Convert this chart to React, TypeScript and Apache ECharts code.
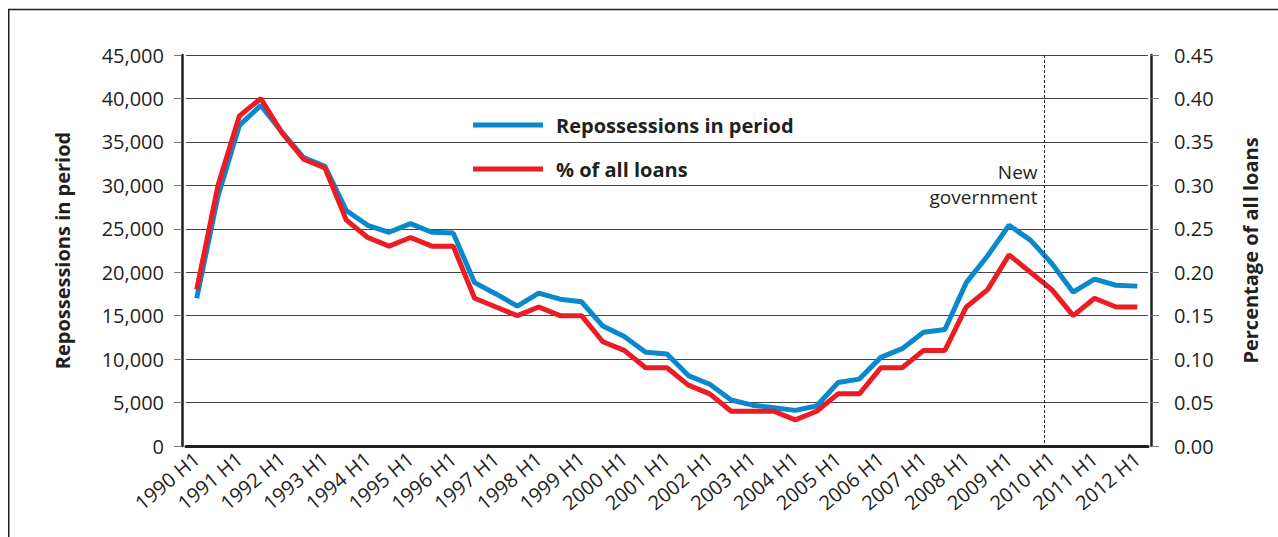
import React, { useEffect, useRef } from "react";
import * as echarts from "echarts";

const categories = [
  "1990 H1", "1990 H2", "1991 H1", "1991 H2", "1992 H1", "1992 H2", "1993 H1", "1993 H2",
  "1994 H1", "1994 H2", "1995 H1", "1995 H2", "1996 H1", "1996 H2", "1997 H1", "1997 H2",
  "1998 H1", "1998 H2", "1999 H1", "1999 H2", "2000 H1", "2000 H2", "2001 H1", "2001 H2",
  "2002 H1", "2002 H2", "2003 H1", "2003 H2", "2004 H1", "2004 H2", "2005 H1", "2005 H2",
  "2006 H1", "2006 H2", "2007 H1", "2007 H2", "2008 H1", "2008 H2", "2009 H1", "2009 H2",
  "2010 H1", "2010 H2", "2011 H1", "2011 H2", "2012 H1",
];

const repossessions = [
  17000, 28800, 36900, 39200, 36100, 33200, 32200, 27100,
  25400, 24600, 25600, 24600, 24500, 18800, 17500, 16100,
  17600, 16900, 16600, 13800, 12600, 10800, 10600, 8100,
  7100, 5300, 4700, 4400, 4100, 4600, 7300, 7700,
  10200, 11200, 13100, 13400, 18800, 21900, 25400, 23700,
  21000, 17700, 19200, 18500, 18400,
];

const percentOfLoans = [
  0.18, 0.30, 0.38, 0.40, 0.36, 0.33, 0.32, 0.26,
  0.24, 0.23, 0.24, 0.23, 0.23, 0.17, 0.16, 0.15,
  0.16, 0.15, 0.15, 0.12, 0.11, 0.09, 0.09, 0.07,
  0.06, 0.04, 0.04, 0.04, 0.03, 0.04, 0.06, 0.06,
  0.09, 0.09, 0.11, 0.11, 0.16, 0.18, 0.22, 0.20,
  0.18, 0.15, 0.17, 0.16, 0.16,
];

const seriesNames = ["Repossessions in period", "% of all loans"];
const annotationText = "New\ngovernment";
const annotationIndex = 39; // between 2009 H2 and 2010 H1

const TEXT = "#231f20";
const FONT = "'Open Sans', 'Noto Sans', sans-serif";

export default function App() {
  const ref = useRef<HTMLDivElement>(null);

  useEffect(() => {
    if (!ref.current) return;
    const chart = echarts.init(ref.current, null, { renderer: "svg" });
    chart.setOption({
      animation: false,
      textStyle: { fontFamily: FONT, color: TEXT },
      grid: { left: 178, top: 47, width: 962, height: 391 },
      legend: {
        orient: "vertical",
        left: 460,
        top: 102,
        icon: "rect",
        itemWidth: 70,
        itemHeight: 5,
        itemGap: 24,
        data: seriesNames,
        textStyle: {
          fontFamily: FONT,
          fontSize: 20,
          fontWeight: "bold",
          color: TEXT,
          padding: [0, 0, 0, 8],
        },
      },
      xAxis: {
        type: "category",
        data: categories,
        boundaryGap: true,
        axisLine: { lineStyle: { color: TEXT, width: 3 } },
        axisTick: { show: false },
        axisLabel: {
          interval: 1,
          rotate: 40,
          fontSize: 20,
          color: TEXT,
          fontFamily: FONT,
          margin: 10,
        },
        splitLine: { show: false },
      },
      yAxis: [
        {
          type: "value",
          min: 0,
          max: 45000,
          interval: 5000,
          position: "left",
          offset: 4,
          name: "Repossessions in period",
          nameLocation: "middle",
          nameRotate: 90,
          nameGap: 110,
          nameTextStyle: { fontSize: 20, fontWeight: "bold", color: TEXT, fontFamily: FONT },
          axisLine: { show: true, lineStyle: { color: TEXT, width: 2.5 } },
          axisTick: { show: true, length: 8, lineStyle: { color: "#777", width: 1 } },
          axisLabel: { fontSize: 20, color: TEXT, margin: 18, fontFamily: FONT },
          splitLine: { show: true, lineStyle: { color: "#444", width: 1 } },
        },
        {
          type: "value",
          min: 0,
          max: 0.45,
          interval: 0.05,
          position: "right",
          offset: 3,
          name: "Percentage of all loans",
          nameLocation: "middle",
          nameRotate: 90,
          nameGap: 89,
          nameTextStyle: { fontSize: 20, fontWeight: "bold", color: TEXT, fontFamily: FONT },
          axisLine: { show: true, lineStyle: { color: TEXT, width: 2.5 } },
          axisTick: { show: true, length: 8, lineStyle: { color: "#777", width: 1 } },
          axisLabel: {
            fontSize: 20,
            color: TEXT,
            margin: 23,
            fontFamily: FONT,
            formatter: (v: number) => v.toFixed(2),
          },
          splitLine: { show: false },
        },
      ],
      series: [
        {
          name: seriesNames[0],
          type: "line",
          data: repossessions,
          yAxisIndex: 0,
          symbol: "none",
          color: "#0a88cc",
          lineStyle: { color: "#0a88cc", width: 5 },
          z: 2,
        },
        {
          name: seriesNames[1],
          type: "line",
          data: percentOfLoans,
          yAxisIndex: 1,
          symbol: "none",
          color: "#ec1c24",
          lineStyle: { color: "#ec1c24", width: 5 },
          z: 3,
        },
      ],
    });

    const x0 = chart.convertToPixel({ xAxisIndex: 0 }, categories[annotationIndex]) as number;
    const x1 = chart.convertToPixel({ xAxisIndex: 0 }, categories[annotationIndex + 1]) as number;
    const xd = x0 + 0.66 * (x1 - x0);
    const yTop = chart.convertToPixel({ yAxisIndex: 0 }, 45000) as number;
    const yBot = chart.convertToPixel({ yAxisIndex: 0 }, 0) as number;

    chart.setOption({
      graphic: [
        {
          type: "rect",
          silent: true,
          shape: { x: 0.75, y: 1.5, width: 3000, height: 3000 },
          style: { fill: "none", stroke: TEXT, lineWidth: 1.5 },
        },
        {
          type: "line",
          silent: true,
          z: 10,
          shape: { x1: xd, y1: yTop, x2: xd, y2: yBot },
          style: { stroke: TEXT, lineWidth: 1, lineDash: [3, 2] },
        },
        {
          type: "text",
          silent: true,
          z: 10,
          x: xd - 7,
          y: 151,
          style: {
            text: annotationText,
            align: "right",
            fontSize: 19,
            fontFamily: FONT,
            fill: TEXT,
            lineHeight: 25,
          },
        },
      ],
    });

    return () => chart.dispose();
  }, []);

  return (
    <div
      ref={ref}
      style={{ position: "absolute", left: 8, top: 8, width: 1270, height: 529 }}
    />
  );
}
